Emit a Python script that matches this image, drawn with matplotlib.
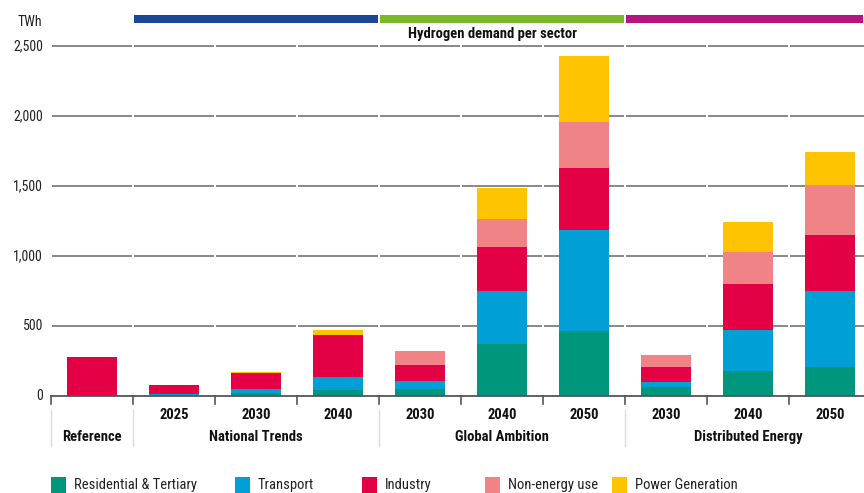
import matplotlib
matplotlib.use("Agg")
import matplotlib.pyplot as plt
from matplotlib import font_manager as fm
from matplotlib.patches import Rectangle
import matplotlib.transforms as mtransforms

# ---- data ----
years = ["", "2025", "2030", "2040", "2030", "2040", "2050", "2030", "2040", "2050"]
groups = ["Reference", "National Trends", "Global Ambition", "Distributed Energy"]
group_slots = [(0, 0), (1, 3), (4, 6), (7, 9)]
series = ["Residential & Tertiary", "Transport", "Industry", "Non-energy use", "Power Generation"]
residential = [0, 8, 24, 43, 50, 371, 467, 62, 176, 207]
transport = [0, 4, 29, 93, 54, 379, 716, 36, 295, 543]
industry = [276, 68, 109, 298, 114, 314, 448, 107, 329, 400]
non_energy = [0, 0, 0, 0, 105, 200, 324, 86, 229, 355]
power = [0, 0, 12, 40, 0, 224, 476, 0, 214, 238]
yticks = [0, 500, 1000, 1500, 2000, 2500]
ytick_labels = ["0", "500", "1,000", "1,500", "2,000", "2,500"]
header_title = "Hydrogen demand per sector"
unit = "TWh"

colors = ["#00967d", "#009fd6", "#e30045", "#f08385", "#ffc400"]
header_colors = ["#1a4797", "#7ab929", "#b5157c"]

avail = {f.name for f in fm.fontManager.ttflist}
fam = "Roboto Condensed" if "Roboto Condensed" in avail else "Roboto"
plt.rcParams["font.family"] = [fam, "DejaVu Sans"]

W, H = 864, 493
fig = plt.figure(figsize=(W / 100, H / 100), dpi=100)
left_px, right_px, top_px, bot_px = 51, 864, 46, 396
ax = fig.add_axes([left_px / W, 1 - bot_px / H, (right_px - left_px) / W, (bot_px - top_px) / H])
slot = 82.0
xmax = -0.5 + (right_px - left_px) / slot
ax.set_xlim(-0.5, xmax)
ax.set_ylim(0, 2500)
for s in ax.spines.values():
    s.set_visible(False)
ax.set_xticks([])
ax.set_yticks([])

n = len(years)
gap = 1.2 / slot
for yv in yticks[1:]:
    for k in range(n):
        ax.plot([k - 0.5 + gap, k + 0.5 - gap], [yv, yv], color="#7f7f7f", lw=1.3,
                solid_capstyle="butt", zorder=1, clip_on=False)
ax.plot([-0.5, n - 0.5], [0, 0], color="#555555", lw=1.3, zorder=3, clip_on=False)
for k in range(n + 1):
    ax.plot([k - 0.5, k - 0.5], [0, -60], color="#555555", lw=1.2, zorder=3, clip_on=False)

stack = [residential, transport, industry, non_energy, power]
bottoms = [0] * n
for vals, c, name in zip(stack, colors, series):
    ax.bar(range(n), vals, width=0.61, bottom=bottoms, color=c, lw=0, zorder=2, label=name)
    bottoms = [b + v for b, v in zip(bottoms, vals)]

for yv, lab in zip(yticks, ytick_labels):
    ax.text(-0.5 - 8 / slot, yv, lab, ha="right", va="center", fontsize=10, color="#222222",
            clip_on=False)
fig.text(42 / W, 1 - 22 / H, unit, ha="right", va="center", fontsize=10, color="#222222")

def fy(py):
    return 1 - py / H

blend = mtransforms.blended_transform_factory(ax.transData, fig.transFigure)
for k, yl in enumerate(years):
    if yl:
        ax.text(k, fy(415), yl, transform=blend, ha="center", va="center", fontsize=10.5,
                fontweight="bold", color="#111111")
for (a, b), g in zip(group_slots, groups):
    ax.text((a + b) / 2, fy(437), g, transform=blend, ha="center", va="center", fontsize=10.5,
            fontweight="bold", color="#111111")
for xb in [-0.5, 0.5, 3.5, 6.5]:
    ax.plot([xb, xb], [fy(410), fy(446)], transform=blend, color="#dddddd", lw=1, clip_on=False)

spans = [(0.5, 3.5), (3.5, 6.5), (6.5, xmax)]
for (a, b), c in zip(spans, header_colors):
    ax.add_patch(Rectangle((a + 1 / slot, fy(22.5)), (b - a) - 2 / slot, 8 / H, transform=blend,
                           color=c, lw=0, clip_on=False))
ax.text(4.89, fy(34), header_title, transform=blend, ha="center", va="center", fontsize=10.5,
        fontweight="bold", color="#111111")

leg_x = [51, 235, 362, 485, 612]
for x0, c, name in zip(leg_x, colors, series):
    fig.patches.append(Rectangle((x0 / W, fy(493)), 15 / W, 16 / H, transform=fig.transFigure,
                                 color=c, lw=0))
    fig.text((x0 + 23) / W, fy(485), name, ha="left", va="center", fontsize=10.5, color="#222222")

fig.savefig("out.png", dpi=100)
